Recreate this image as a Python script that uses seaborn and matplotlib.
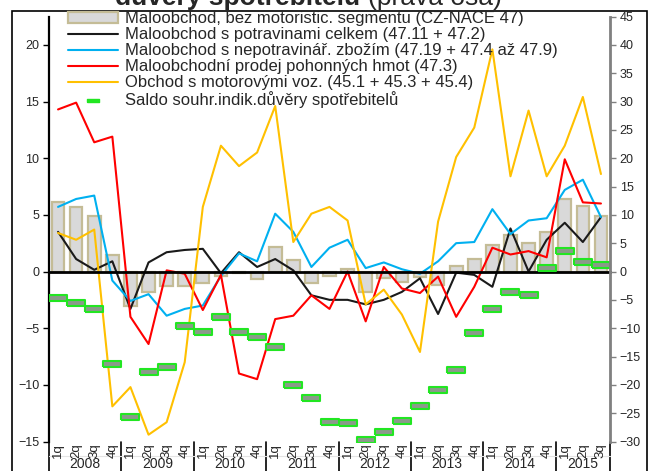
import numpy as np
import pandas as pd
import matplotlib
matplotlib.use("Agg")
import matplotlib.pyplot as plt
from matplotlib.patches import Patch, Rectangle
from matplotlib.lines import Line2D
import seaborn as sns

# quarters 2008 1q .. 2015 3q
years = ["2008", "2009", "2010", "2011", "2012", "2013", "2014", "2015"]
quarters = ["1q", "2q", "3q", "4q"] * 7 + ["1q", "2q", "3q"]

# left axis series
retail_total = [6.1, 5.7, 4.9, 1.5, -3.0, -1.8, -1.3, -1.3, -1.0, -0.4, -0.1,
                -0.7, 2.2, 1.0, -1.0, -0.4, 0.2, -1.8, -0.6, -0.9, -0.5, -1.2,
                0.5, 1.1, 2.3, 3.25, 2.5, 3.5, 6.4, 5.8, 4.9]
food = [3.5, 1.1, 0.15, 0.9, -3.3, 0.8, 1.7, 1.9, 2.0, -0.15, 1.7, 0.4, 1.1,
        0.1, -2.1, -2.5, -2.5, -2.9, -2.5, -1.8, -0.6, -3.75, -0.1, -0.3,
        -1.35, 3.8, 0.0, 2.8, 4.3, 2.6, 4.8]
non_food = [5.7, 6.4, 6.7, -0.8, -2.6, -2.0, -3.9, -3.3, -3.0, -0.4, 1.6, 0.9,
            5.1, 3.5, 0.4, 2.1, 2.8, 0.3, 0.8, 0.2, -0.2, 0.9, 2.5, 2.6, 5.5,
            3.3, 4.5, 4.7, 7.2, 8.1, 4.8]
fuel = [14.3, 14.9, 11.4, 11.9, -4.0, -6.4, 0.1, -0.2, -3.4, -0.3, -9.0, -9.5,
        -4.2, -3.9, -2.1, -3.3, 0.0, -4.4, 0.4, -1.5, -1.9, -0.45, -4.0,
        -1.35, 2.1, 1.5, 1.8, 1.25, 9.9, 6.1, 6.0]
motor = [3.4, 2.8, 3.7, -11.9, -10.2, -14.4, -13.3, -8.0, 5.7, 11.1, 9.3,
         10.5, 14.6, 2.6, 5.1, 5.7, 4.5, -2.9, -1.6, -3.8, -7.1, 4.4, 10.1,
         12.7, 19.6, 8.4, 14.2, 8.4, 11.1, 15.4, 8.6]
# right axis
confidence = [-4.6, -5.5, -6.6, -16.3, -25.6, -17.8, -16.8, -9.7, -10.7, -8.1,
              -10.6, -11.6, -13.4, -20.0, -22.4, -26.6, -26.8, -29.8, -28.4,
              -26.4, -23.7, -20.9, -17.3, -10.8, -6.6, -3.6, -4.1, 0.7, 3.6,
              1.7, 1.1]

labels = ["Maloobchod, bez motoristic. segmentu (CZ-NACE 47)",
          "Maloobchod s potravinami celkem (47.11 + 47.2)",
          "Maloobchod s nepotravinář. zbožím (47.19 + 47.4 až 47.9)",
          "Maloobchodní prodej pohonných hmot (47.3)",
          "Obchod s motorovými voz. (45.1 + 45.3 + 45.4)",
          "Saldo souhr.indik.důvěry spotřebitelů"]

pos = np.arange(len(quarters))
df = pd.DataFrame({"pos": pos, "val": retail_total})

sns.set_style("white")
plt.rcParams["font.family"] = ["Liberation Sans", "DejaVu Sans"]

fig = plt.figure(figsize=(6.53, 4.71), dpi=100)
ax = fig.add_axes([49 / 653, 1 - 441.5 / 471, 561 / 653, 425 / 471])

sns.barplot(data=df, x="pos", y="val", native_scale=True, width=0.7,
            color="#d9d9d9", saturation=1, edgecolor="#c4bc96", linewidth=1.6,
            errorbar=None, ax=ax, zorder=1)

line_cols = ["#1a1a1a", "#00b0f0", "#ff0000", "#ffc000"]
for s, c in zip([food, non_food, fuel, motor], line_cols):
    sns.lineplot(x=pos, y=s, color=c, lw=1.5, ax=ax, zorder=3)

ax.set_xlim(-0.5, 30.5)
ax.set_ylim(-15, 22.5)
ax.set_yticks(range(-15, 21, 5))
ax.set_xlabel("")
ax.set_ylabel("")
ax.set_xticks(np.arange(-0.5, 31, 1))
ax.set_xticklabels([])
ax.tick_params(axis="x", direction="out", length=4, width=1.5, color="black")
ax.tick_params(axis="y", direction="out", length=4, width=1, color="black",
               labelsize=9, pad=3)
for k in ["top", "right"]:
    ax.spines[k].set_visible(False)
ax.spines["bottom"].set_position(("data", 0))
ax.spines["bottom"].set_linewidth(2)
ax.spines["bottom"].set_color("black")
ax.spines["bottom"].set_zorder(4)
ax.spines["left"].set_linewidth(1.6)
ax.spines["left"].set_color("black")

# right axis: consumer confidence
ax2 = ax.twinx()
dash = [(-1, -0.27), (1, -0.27), (1, 0.27), (-1, 0.27), (-1, -0.27)]
ax2.plot(pos, confidence, ls="none", marker=dash, markersize=13.5,
         markerfacecolor="#8a9a8a", markeredgecolor="#22e622", markeredgewidth=1.5)
ax2.set_ylim(-30, 45)
ax2.set_yticks(range(-30, 46, 5))
ax2.tick_params(axis="y", direction="out", length=4, width=1, color="#808080",
                labelsize=9, pad=3)
for k in ["top", "left", "bottom"]:
    ax2.spines[k].set_visible(False)
ax2.spines["right"].set_color("#808080")
ax2.spines["right"].set_linewidth(2)

# quarter and year labels below the plot
for i, q in enumerate(quarters):
    ax.annotate(q, xy=(i, 0), xycoords=("data", "axes fraction"),
                xytext=(0, -1.2), textcoords="offset points", rotation=90,
                ha="center", va="top", fontsize=9.5, annotation_clip=False)
for k, y in enumerate(years):
    mid = 4 * k + (1.5 if y != "2015" else 1.0)
    ax.annotate(y, xy=(mid, 0), xycoords=("data", "axes fraction"),
                xytext=(0, -16), textcoords="offset points",
                ha="center", va="center", fontsize=10, annotation_clip=False)
bounds = list(np.arange(-0.5, 30, 4)) + [30.5]
tr = ax.get_xaxis_transform()
for b in bounds:
    ax.plot([b, b], [0, -0.08], color="black", lw=1.2, transform=tr,
            clip_on=False)
ax.plot([-0.5, 30.5], [-0.034, -0.034], color="#e4e4e4", lw=0.8,
        transform=tr, clip_on=False)

# legend
handles = [Patch(facecolor="#d9d9d9", edgecolor="#c4bc96", lw=1.6)]
handles += [Line2D([], [], color=c, lw=1.5) for c in line_cols]
handles += [Line2D([], [], ls="none", marker=dash, markersize=8,
                   markerfacecolor="#22e622", markeredgecolor="#22e622")]
fig.legend(handles, labels, loc="upper left", bbox_to_anchor=(68 / 653, 0.976),
           frameon=False, fontsize=12, handlelength=3.0, handleheight=0.6,
           handletextpad=0.42, labelspacing=0.06, borderpad=0, borderaxespad=0)

# cut-off second line of title
t1 = fig.text(115 / 653, 1 - 5 / 471, "důvěry spotřebitelů", fontsize=19,
              weight="bold", va="baseline", ha="left")
fig.canvas.draw()
x1 = t1.get_window_extent().x1
fig.text((x1 + 8) / 653, 1 - 5 / 471, "(pravá osa)", fontsize=19,
         va="baseline", ha="left")

# outer frame
fig.patches.append(Rectangle((12 / 653, -0.05), 635 / 653, 0.05 + 1 - 10.7 / 471,
                             transform=fig.transFigure, fill=False,
                             edgecolor="black", lw=1.2))

fig.savefig("out.png", dpi=100)
